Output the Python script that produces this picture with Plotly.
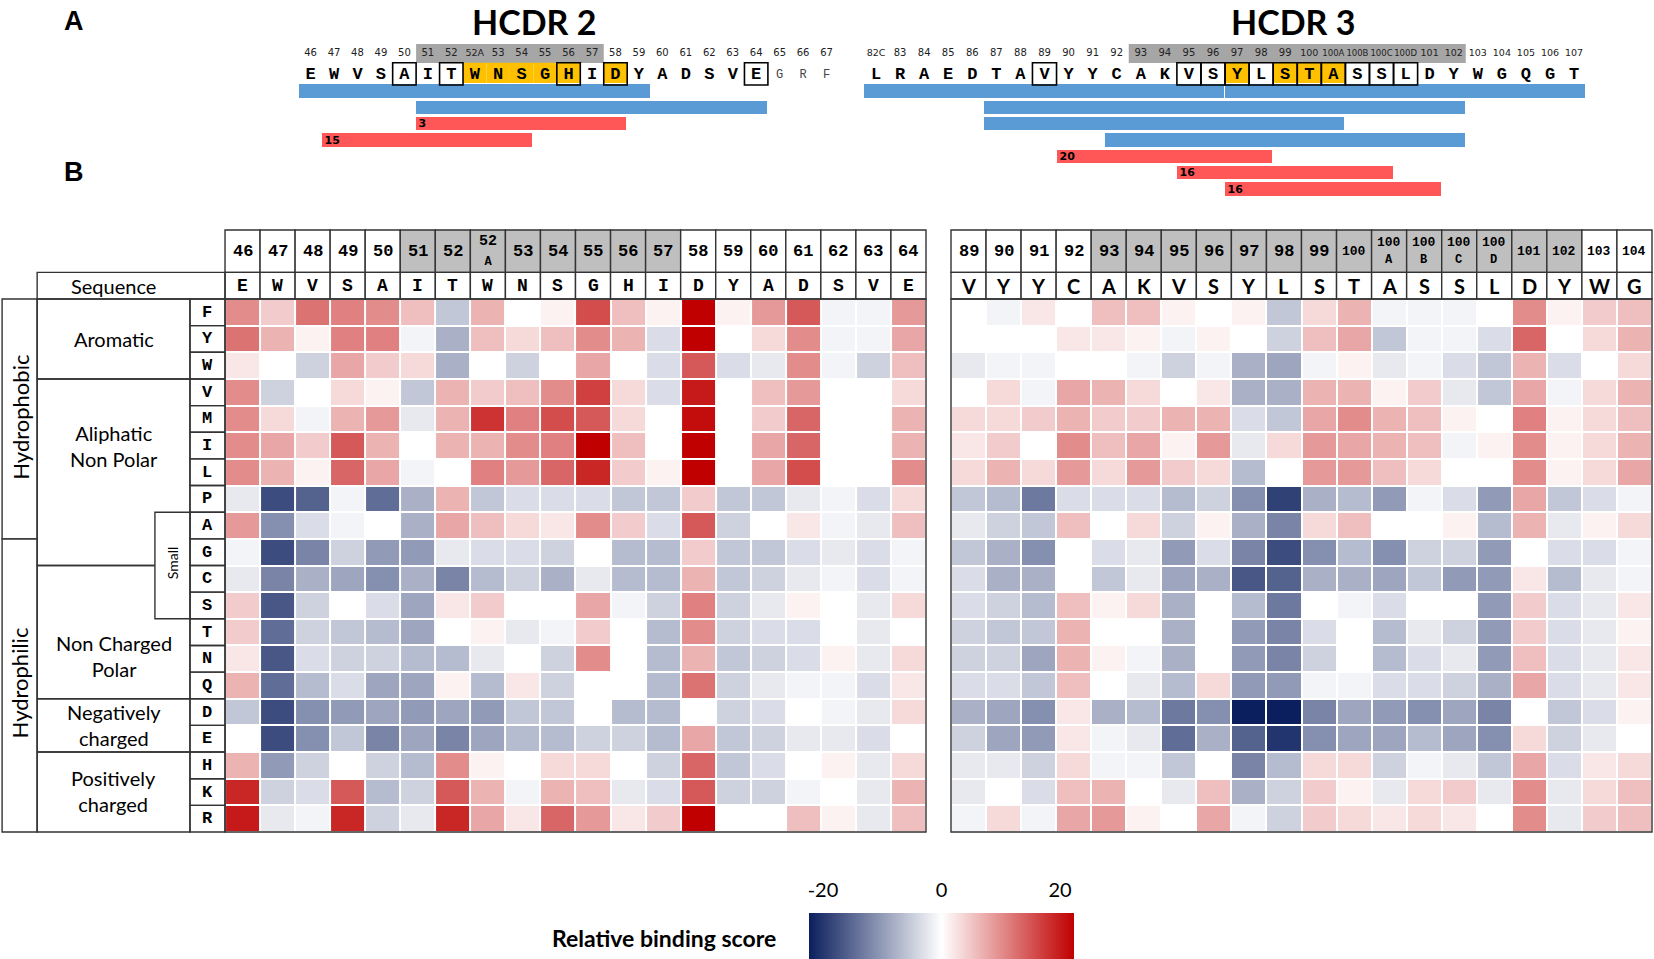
import plotly.graph_objects as go

W, H = 1654, 959

# ---------------- data ----------------
rows = ["F", "Y", "W", "V", "M", "I", "L", "P", "A", "G",
        "C", "S", "T", "N", "Q", "D", "E", "H", "K", "R"]

hcdr2_pos = ["46", "47", "48", "49", "50", "51", "52", "52A", "53", "54",
             "55", "56", "57", "58", "59", "60", "61", "62", "63", "64"]
hcdr2_seq = ["E", "W", "V", "S", "A", "I", "T", "W", "N", "S",
             "G", "H", "I", "D", "Y", "A", "D", "S", "V", "E"]

hcdr3_pos = ["89", "90", "91", "92", "93", "94", "95", "96", "97", "98",
             "99", "100", "100A", "100B", "100C", "100D", "101", "102", "103", "104"]
hcdr3_seq = ["V", "Y", "Y", "C", "A", "K", "V", "S", "Y", "L",
             "S", "T", "A", "S", "S", "L", "D", "Y", "W", "G"]

# relative binding score, one list per substituted residue (rows), columns = positions
hcdr2_scores = [
    [9, 4, 11, 10, 9, 5, -5, 6, 0, 1, 14, 5, 1, 20, 1, 8, 13, -1, -1, 8],
    [11, 6, 1, 10, 10, -1, -7, 5, 3, 5, 9, 6, -3, 20, 0, 3, 9, -1, -1, 7],
    [2, 0, -4, 7, 4, 3, -7, 0, -4, 0, 7, 0, -3, 13, -3, -2, 9, -1, -4, 5],
    [9, -4, 0, 3, 1, -5, 6, 4, 5, 9, 15, 3, -3, 18, 0, 5, 8, 0, 0, 3],
    [9, 3, -1, 6, 8, -2, 6, 16, 10, 14, 13, 3, 0, 19, 0, 4, 12, 0, 0, 6],
    [9, 7, 4, 13, 6, 0, 6, 6, 9, 10, 20, 5, 0, 20, 0, 7, 12, 0, 0, 6],
    [9, 6, 1, 12, 7, -1, 0, 10, 8, 12, 17, 4, 1, 20, 0, 7, 14, 0, 0, 9],
    [-2, -16, -14, -1, -13, -7, 6, -5, -3, -3, -3, -5, -5, 4, -5, -5, -2, -1, -3, 3],
    [8, -10, -3, -1, 0, -7, 7, 5, 3, 2, 9, 4, -3, 13, -4, 0, 2, -1, -2, 5],
    [-1, -16, -11, -4, -9, -9, -2, -3, -3, -4, 0, -6, -6, 4, -5, -5, -3, -2, -3, -1],
    [-2, -11, -7, -8, -10, -7, -11, -6, -4, -7, -2, -6, -6, 6, -5, -4, -2, -1, -3, -1],
    [4, -15, -4, 0, -3, -8, 2, 4, 0, 0, 7, -1, -4, 10, -4, -2, 1, 0, -2, 3],
    [4, -13, -4, -5, -6, -8, 0, 1, -2, -1, 4, 0, -6, 9, -4, -3, -3, 0, -2, 0],
    [2, -15, -3, -4, -4, -6, -6, -2, 0, -4, 9, 0, -6, 6, -5, -4, -3, 1, -2, 3],
    [6, -13, -6, -3, -8, -8, 1, -6, 2, -4, 0, 0, -6, 11, -4, -2, -1, -1, -3, 2],
    [-5, -16, -10, -9, -8, -9, -8, -9, -5, -5, 0, -6, -6, 0, -4, -3, 0, -1, -2, 3],
    [0, -16, -10, -5, -11, -8, -11, -8, -6, -6, -4, -4, -6, 7, -5, -4, -2, -2, -3, 0],
    [6, -9, -4, 0, -4, -6, 9, 1, 0, 3, 3, 0, -4, 12, -5, -3, 0, 1, -2, 3],
    [17, -4, -3, 13, -6, -4, 13, 6, -1, 6, 5, -2, -3, 13, -4, -4, -1, 0, -2, 6],
    [18, -2, -1, 17, -4, -2, 17, 7, 2, 12, 8, 2, 4, 20, 0, 0, 5, 1, -2, 5],
]

hcdr3_scores = [
    [0, -1, 2, 0, 5, 5, 1, 0, 1, -5, 3, 6, -1, -1, -1, 0, 9, 1, 4, 5],
    [0, 0, 0, 2, 2, 1, -1, 1, 0, -4, 5, 7, -5, -1, -1, -3, 12, 0, 3, 6],
    [-2, -1, -1, 0, 0, -1, -4, -1, -7, -8, -1, 1, -2, -1, -3, -5, 6, -3, 0, 3],
    [0, 3, -1, 7, 6, 3, 0, 2, -7, -7, 6, 6, 1, 4, -2, -5, 7, -1, 3, 6],
    [3, 3, 4, 6, 4, 4, 6, 6, -3, -5, 7, 9, 6, 5, 1, 0, 10, 1, 3, 5],
    [2, 4, 0, 9, 5, 7, 1, 8, -2, 3, 8, 7, 6, 5, -1, 1, 9, 1, 3, 6],
    [3, 6, 3, 8, 3, 8, 4, 3, -6, 0, 8, 8, 5, 3, 0, 0, 9, 1, 3, 7],
    [-5, -6, -12, -3, -3, -3, -6, -4, -10, -17, -7, -6, -9, -1, -3, -9, 7, -5, -3, -1],
    [-2, -4, -5, 5, 0, 3, -4, 1, -7, -11, 3, 5, 0, 0, 1, -6, 6, -2, 1, 3],
    [-5, -7, -10, 0, -3, -2, -9, -3, -11, -16, -10, -6, -10, -4, -4, -9, 0, -3, -3, -1],
    [-3, -7, -7, 0, -5, -2, -8, -7, -15, -14, -7, -7, -8, -5, -9, -9, 2, -6, -2, -1],
    [-3, -4, -6, 5, 1, 3, -7, 0, -6, -12, 0, -1, -3, 0, 0, -9, 4, -3, -2, 2],
    [-4, -5, -5, 6, 0, 0, -7, 0, -9, -11, -3, 0, -6, -2, -4, -9, 4, -3, -2, 1],
    [-4, -4, -8, 6, 1, -1, -7, 0, -9, -11, -4, 0, -6, -3, -2, -9, 5, -3, -2, 2],
    [-3, -3, -5, 5, 0, -2, -6, 3, -9, -9, -1, -1, -3, -3, -4, -7, 7, -3, -2, 2],
    [-7, -8, -10, 2, -7, -6, -12, -10, -20, -20, -11, -8, -9, -10, -8, -11, 0, -5, -3, 1],
    [-4, -8, -9, 2, -1, -2, -13, -7, -14, -18, -10, -8, -8, -6, -8, -10, 3, -4, -2, 0],
    [-2, -2, -4, 3, -1, -1, -5, 0, -11, -6, 3, 3, -4, -1, -2, -5, 7, -3, 2, 3],
    [-2, 0, -3, 5, 6, 0, -2, 5, -7, -4, 4, 1, -2, 3, 4, -2, 9, -2, 3, 5],
    [-1, 3, -1, 7, 8, 1, 0, 7, -1, -4, 4, 3, 2, 3, 2, 0, 9, -2, 4, 5],
]

# residue classes (first row, last row)
classes = [("Hydrophobic", 0, 8), ("Hydrophilic", 9, 19)]
class_label_row = [3.93, 13.9]
groups = [("Aromatic", 0, 2), ("Aliphatic<br>Non Polar", 3, 9),
          ("Non Charged<br>Polar", 10, 14), ("Negatively<br>charged", 15, 16),
          ("Positively<br>charged", 17, 19)]
group_label_row = [1.0, 5.0, 12.9, 15.5, 17.95]
small_group = ("Small", 8, 11)

# panel A: sequences
seqA2_pos = hcdr2_pos + ["65", "66", "67"]
seqA2_seq = hcdr2_seq + ["G", "R", "F"]
seqA3_pos = ["82C", "83", "84", "85", "86", "87", "88", "89", "90", "91", "92", "93",
             "94", "95", "96", "97", "98", "99", "100", "100A", "100B", "100C", "100D",
             "101", "102", "103", "104", "105", "106", "107"]
seqA3_seq = ["L", "R", "A", "E", "D", "T", "A", "V", "Y", "Y", "C", "A", "K", "V", "S",
             "Y", "L", "S", "T", "A", "S", "S", "L", "D", "Y", "W", "G", "Q", "G", "T"]
faint2 = ["65", "66", "67"]

hcdr2_gray = ("51", "57")
hcdr3_gray = ("93", "102")
hcdr2_yellow = ["52A", "53", "54", "55", "56", "58"]
hcdr3_yellow = ["97", "99", "100", "100A"]
hcdr2_boxed = ["50", "52", "56", "58", "64"]
hcdr3_boxed = ["89", "95", "96", "97", "98", "99", "100", "100A", "100B", "100C", "100D"]

# peptide / epitope bars
bars2_from = ["46", "51", "51", "47"]
bars2_to = ["59", "64", "58", "54"]
bars2_row = [0, 1, 2, 3]
bars2_kind = ["blue", "blue", "red", "red"]
bars2_label = ["", "", "3", "15"]

bars3_from = ["82C", "97", "87", "87", "92", "90", "95", "97"]
bars3_to = ["96", "107", "102", "100A", "102", "98", "100C", "101"]
bars3_row = [0, 0, 1, 2, 3, 4, 5, 6]
bars3_kind = ["blue", "blue", "blue", "blue", "blue", "red", "red", "red"]
bars3_label = ["", "", "", "", "", "20", "16", "16"]

cbar_ticks = [-20, 0, 20]

# ---------------- style ----------------
COLORSCALE = [[0.0, "#0b1f5e"], [0.5, "#ffffff"], [1.0, "#c00000"]]
BAR_COLORS = {"blue": "#5b9bd5", "red": "#ff5757"}
LINE = dict(color="#333333", width=1.4)
SANS = "Lato"
MONO = "Liberation Mono"


def px(x):
    return x / W


def py(y):
    return 1 - y / H


fig = go.Figure()

# heatmaps
ncol = len(hcdr2_pos)
fig.add_trace(go.Heatmap(z=hcdr2_scores, x=list(range(ncol)), y=list(range(len(rows))),
                         coloraxis="coloraxis", xgap=2, ygap=2, xaxis="x", yaxis="y",
                         customdata=[[p for p in hcdr2_pos]] * len(rows),
                         hovertemplate="%{customdata}: %{z}<extra></extra>"))
fig.add_trace(go.Heatmap(z=hcdr3_scores, x=list(range(ncol)), y=list(range(len(rows))),
                         coloraxis="coloraxis", xgap=2, ygap=2, xaxis="x2", yaxis="y",
                         customdata=[[p for p in hcdr3_pos]] * len(rows),
                         hovertemplate="%{customdata}: %{z}<extra></extra>"))

shapes = []
annotations = []

# header rows of both heatmaps
NUM_TOP, NUM_BOT, SEQ_BOT = -3.09, -1.5, -0.5


def header_label(p):
    if len(p) == 2:
        return p, 17
    if p[-1].isalpha():
        return "%s<br><span style='font-size:12px'>%s</span>" % (p[:-1], p[-1]), (15 if len(p) == 3 else 13)
    return p, 13


for xr, pos, seq, gray, seq_font, seq_size in [
        ("x", hcdr2_pos, hcdr2_seq, hcdr2_gray, MONO, 18),
        ("x2", hcdr3_pos, hcdr3_seq, hcdr3_gray, SANS, 20)]:
    g0, g1 = pos.index(gray[0]), pos.index(gray[1])
    for i, p in enumerate(pos):
        shapes.append(dict(type="rect", xref=xr, yref="y", x0=i - 0.5, x1=i + 0.5,
                           y0=NUM_TOP, y1=NUM_BOT, line=LINE,
                           fillcolor="#bfbfbf" if g0 <= i <= g1 else "white", layer="below"))
        shapes.append(dict(type="rect", xref=xr, yref="y", x0=i - 0.5, x1=i + 0.5,
                           y0=NUM_BOT, y1=SEQ_BOT, line=LINE, fillcolor="white", layer="below"))
        txt, size = header_label(p)
        annotations.append(dict(xref=xr, yref="y", x=i, y=(NUM_TOP + NUM_BOT) / 2, text=txt,
                                showarrow=False, font=dict(family=MONO, size=size, color="black",
                                                           weight="bold")))
        annotations.append(dict(xref=xr, yref="y", x=i, y=-1.0, text=seq[i], showarrow=False,
                                font=dict(family=seq_font, size=seq_size, color="black",
                                          weight="bold")))
    shapes.append(dict(type="rect", xref=xr, yref="y", x0=-0.5, x1=ncol - 0.5,
                       y0=-0.5, y1=len(rows) - 0.5, line=LINE))

# row-label table on the left
X_OUT, X_GRP, X_SMALL, X_LET = -6.86, -5.86, -2.5, -1.5
shapes.append(dict(type="rect", xref="x", yref="y", x0=X_GRP, x1=-0.5, y0=NUM_BOT, y1=SEQ_BOT,
                   line=LINE))
annotations.append(dict(xref="x", yref="y", x=(X_GRP + X_LET) / 2, y=-1.0, text="Sequence",
                        showarrow=False, font=dict(family=SANS, size=20, color="black")))
for (name, r0, r1), ly in zip(classes, class_label_row):
    shapes.append(dict(type="rect", xref="x", yref="y", x0=X_OUT, x1=X_GRP,
                       y0=r0 - 0.5, y1=r1 + 0.5, line=LINE))
    annotations.append(dict(xref="x", yref="y", x=(X_OUT + X_GRP) / 2, y=ly, text=name,
                            textangle=-90, showarrow=False,
                            font=dict(family=SANS, size=22, color="black")))
for (name, r0, r1), ly in zip(groups, group_label_row):
    shapes.append(dict(type="rect", xref="x", yref="y", x0=X_GRP, x1=X_LET,
                       y0=r0 - 0.5, y1=r1 + 0.5, line=LINE))
    annotations.append(dict(xref="x", yref="y", x=(X_GRP + X_LET) / 2, y=ly, text=name,
                            showarrow=False,
                            font=dict(family=SANS, size=20, color="black")))
shapes.append(dict(type="rect", xref="x", yref="y", x0=X_SMALL, x1=X_LET,
                   y0=small_group[1] - 0.5, y1=small_group[2] + 0.5, line=LINE,
                   fillcolor="white"))
annotations.append(dict(xref="x", yref="y", x=(X_SMALL + X_LET) / 2,
                        y=(small_group[1] + small_group[2]) / 2 - 0.1, text=small_group[0],
                        textangle=-90, showarrow=False,
                        font=dict(family=SANS, size=14, color="black")))
for r, aa in enumerate(rows):
    shapes.append(dict(type="rect", xref="x", yref="y", x0=X_LET, x1=-0.5,
                       y0=r - 0.5, y1=r + 0.5, line=LINE))
    annotations.append(dict(xref="x", yref="y", x=-1.0, y=r, text=aa, showarrow=False,
                            font=dict(family=MONO, size=17, color="black", weight="bold")))

# ---------------- panel A ----------------
Y_NUM, Y_LET = -2.3, -1.01


def num_size(p):
    return {2: 10, 3: 9.5}.get(len(p), 8.5)


for xr, pos, seq, gray, yellow, boxed, bfrom, bto, brow, bkind, blabel in [
        ("x3", seqA2_pos, seqA2_seq, hcdr2_gray, hcdr2_yellow, hcdr2_boxed,
         bars2_from, bars2_to, bars2_row, bars2_kind, bars2_label),
        ("x4", seqA3_pos, seqA3_seq, hcdr3_gray, hcdr3_yellow, hcdr3_boxed,
         bars3_from, bars3_to, bars3_row, bars3_kind, bars3_label)]:
    idx = {p: i for i, p in enumerate(pos)}
    shapes.append(dict(type="rect", xref=xr, yref="y3", x0=idx[gray[0]] - 0.5,
                       x1=idx[gray[1]] + 0.5, y0=-2.91, y1=-1.75, fillcolor="#a6a6a6",
                       line=dict(width=0), layer="below"))
    for p in yellow:
        shapes.append(dict(type="rect", xref=xr, yref="y3", x0=idx[p] - 0.5, x1=idx[p] + 0.5,
                           y0=-1.76, y1=-0.4, fillcolor="#ffc000", line=dict(width=0),
                           layer="below"))
    for p in boxed:
        shapes.append(dict(type="rect", xref=xr, yref="y3", x0=idx[p] - 0.5, x1=idx[p] + 0.5,
                           y0=-1.76, y1=-0.4, line=dict(color="black", width=1.6)))

    main = [i for i, p in enumerate(pos) if p not in faint2]
    faint = [i for i, p in enumerate(pos) if p in faint2]
    fig.add_trace(go.Scatter(x=list(range(len(pos))), y=[Y_NUM] * len(pos), text=pos,
                             mode="text", xaxis=xr, yaxis="y3", hoverinfo="skip",
                             textfont=dict(family="DejaVu Sans", size=[num_size(p) for p in pos],
                                           color="#222222"),
                             showlegend=False))
    fig.add_trace(go.Scatter(x=main, y=[Y_LET] * len(main), text=[seq[i] for i in main],
                             mode="text", xaxis=xr, yaxis="y3", hoverinfo="skip",
                             textfont=dict(family=MONO, size=17, color="black", weight="bold"),
                             showlegend=False))
    if faint:
        fig.add_trace(go.Scatter(x=faint, y=[Y_LET] * len(faint), text=[seq[i] for i in faint],
                                 mode="text", xaxis=xr, yaxis="y3", hoverinfo="skip",
                                 textfont=dict(family=MONO, size=12, color="#444444"),
                                 showlegend=False))
    for kind in ["blue", "red"]:
        sel = [k for k in range(len(bfrom)) if bkind[k] == kind]
        fig.add_trace(go.Bar(
            orientation="h", xaxis=xr, yaxis="y3",
            y=[brow[k] for k in sel],
            base=[idx[bfrom[k]] - 0.5 for k in sel],
            x=[idx[bto[k]] - idx[bfrom[k]] + 1 for k in sel],
            width=0.89, marker=dict(color=BAR_COLORS[kind], line=dict(color="white", width=1)),
            text=["<b>%s</b>" % blabel[k] if blabel[k] else "" for k in sel],
            textposition="inside", insidetextanchor="start", textangle=0,
            textfont=dict(family="DejaVu Sans", size=11, color="black"),
            constraintext="none", hoverinfo="skip", showlegend=False))

# invisible helper so the colour-bar label axis is drawn
fig.add_trace(go.Scatter(x=[cbar_ticks[0], cbar_ticks[-1]], y=[0, 0], mode="markers",
                         marker=dict(opacity=0), xaxis="x5", yaxis="y5",
                         hoverinfo="skip", showlegend=False))

# titles / panel letters
for txt, x, y in [("HCDR 2", 534, 22), ("HCDR 3", 1293, 22)]:
    annotations.append(dict(xref="paper", yref="paper", x=px(x), y=py(y), text="<b>%s</b>" % txt,
                            xanchor="center", yanchor="middle", showarrow=False,
                            font=dict(family=SANS, size=34, color="black")))
for txt, x, y in [("A", 74, 21), ("B", 74, 172)]:
    annotations.append(dict(xref="paper", yref="paper", x=px(x), y=py(y), text="<b>%s</b>" % txt,
                            xanchor="center", yanchor="middle", showarrow=False,
                            font=dict(family="Liberation Sans", size=27, color="black")))
annotations.append(dict(xref="paper", yref="paper", x=px(778), y=py(938), xanchor="right",
                        yanchor="middle", text="<b>Relative binding score</b>", showarrow=False,
                        font=dict(family=SANS, size=23, color="black")))

hidden = dict(visible=False, fixedrange=True)
fig.update_layout(
    width=W, height=H, margin=dict(l=0, r=0, t=0, b=0, autoexpand=False),
    paper_bgcolor="white", plot_bgcolor="white",
    barmode="overlay", bargap=0,
    xaxis=dict(domain=[0, px(928)], range=[-6.92, 19.557], anchor="y", **hidden),
    yaxis=dict(domain=[py(834), py(228)], range=[19.575, -3.164], anchor="x", **hidden),
    xaxis2=dict(domain=[px(949), 1.0], range=[-0.557, 19.557], anchor="y", **hidden),
    xaxis3=dict(domain=[px(270), px(850)], range=[-1.73, 23.0], anchor="y3", **hidden),
    xaxis4=dict(domain=[px(850), 1.0], range=[-1.08, 32.32], anchor="y3", **hidden),
    yaxis3=dict(domain=[py(200), 1.0], range=[6.64, -5.6], anchor="x3", **hidden),
    xaxis5=dict(domain=[px(823), px(1060)], range=[cbar_ticks[0], cbar_ticks[-1]], anchor="y5",
                tickvals=cbar_ticks, ticktext=[str(t) for t in cbar_ticks], ticks="",
                showgrid=False, zeroline=False, showline=False, fixedrange=True,
                tickfont=dict(family=SANS, size=20, color="black")),
    yaxis5=dict(domain=[py(876), py(870)], anchor="x5", **hidden),
    coloraxis=dict(cmin=cbar_ticks[0], cmax=cbar_ticks[-1], colorscale=COLORSCALE,
                   colorbar=dict(orientation="h", x=px(941.5), xanchor="center",
                                 y=py(913), yanchor="top", len=265 / W, lenmode="fraction",
                                 thickness=46, thicknessmode="pixels", outlinewidth=0,
                                 showticklabels=False, ticks="", xpad=0, ypad=0)),
    shapes=shapes, annotations=annotations, showlegend=False,
)

fig.write_html("out.html", config={"displayModeBar": False, "responsive": False},
               post_script="document.body.style.margin='0px';")
